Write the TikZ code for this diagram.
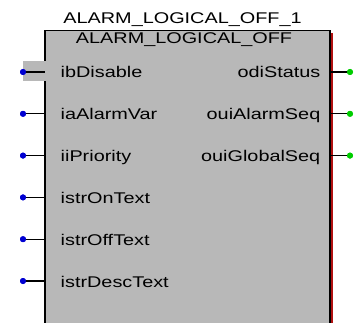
\documentclass[tikz,border=0pt]{standalone}
\usepackage{fontspec}
\newfontfamily\blockfont[FakeStretch=1.28]{Liberation Sans}
\definecolor{blockgray}{RGB}{184,184,184}
\definecolor{edgered}{RGB}{176,16,16}
\definecolor{inblue}{RGB}{0,0,210}
\definecolor{outgreen}{RGB}{0,205,0}
\begin{document}
\begin{tikzpicture}[x=1pt,y=-1pt,
  txt/.style={font=\blockfont\fontsize{15.5}{18}\selectfont, inner sep=0pt},
  inlbl/.style={txt, anchor=base west},
  outlbl/.style={txt, anchor=base east},
  indot/.style={circle, fill=inblue, inner sep=0pt, minimum size=6pt},
  outdot/.style={circle, fill=outgreen, inner sep=0pt, minimum size=6pt},
  pinline/.style={line width=1.4pt, black}]
\useasboundingbox (0,0) rectangle (358,323);

% function block body
\fill[blockgray] (45,30.5) rectangle (330,323);
\draw[line width=1.3pt] (45,323) -- (45,30.5) -- (330,30.5) -- (330,323);
\draw[edgered, line width=2pt] (332,33) -- (332,323);

% selected input pin highlight
\fill[blockgray] (23,61) rectangle (45.8,81);

% instance name and type name
\node[txt, anchor=base] (inst) at (182.5,23.5) {ALARM\_LOGICAL\_OFF\_1};
\node[txt, anchor=base] (type) at (184,44) {ALARM\_LOGICAL\_OFF};

% inputs
\foreach \name/\lab/\yy in {a/ibDisable/72, b/iaAlarmVar/113.8, c/iiPriority/155.6,
    d/istrOnText/197.4, e/istrOffText/239.2, f/istrDescText/281} {
  \coordinate (in\name) at (45,\yy);
  \node[indot] (dot\name) at (23,\yy) {};
  \draw[pinline] (dot\name.center) -- (in\name);
  \node[indot] at (dot\name) {};
  \node[inlbl] (lab\name) at (60.5,\yy+6) {\lab};
}

% outputs
\foreach \name/\lab/\yy in {a/odiStatus/72, b/ouiAlarmSeq/113.8, c/ouiGlobalSeq/155.6} {
  \coordinate (out\name) at (331,\yy);
  \node[outdot] (odot\name) at (350,\yy) {};
  \draw[pinline] (out\name) -- (odot\name.center);
  \node[outdot] at (odot\name) {};
  \node[outlbl] (olab\name) at (320.5,\yy+6) {\lab};
}
\end{tikzpicture}
\end{document}
